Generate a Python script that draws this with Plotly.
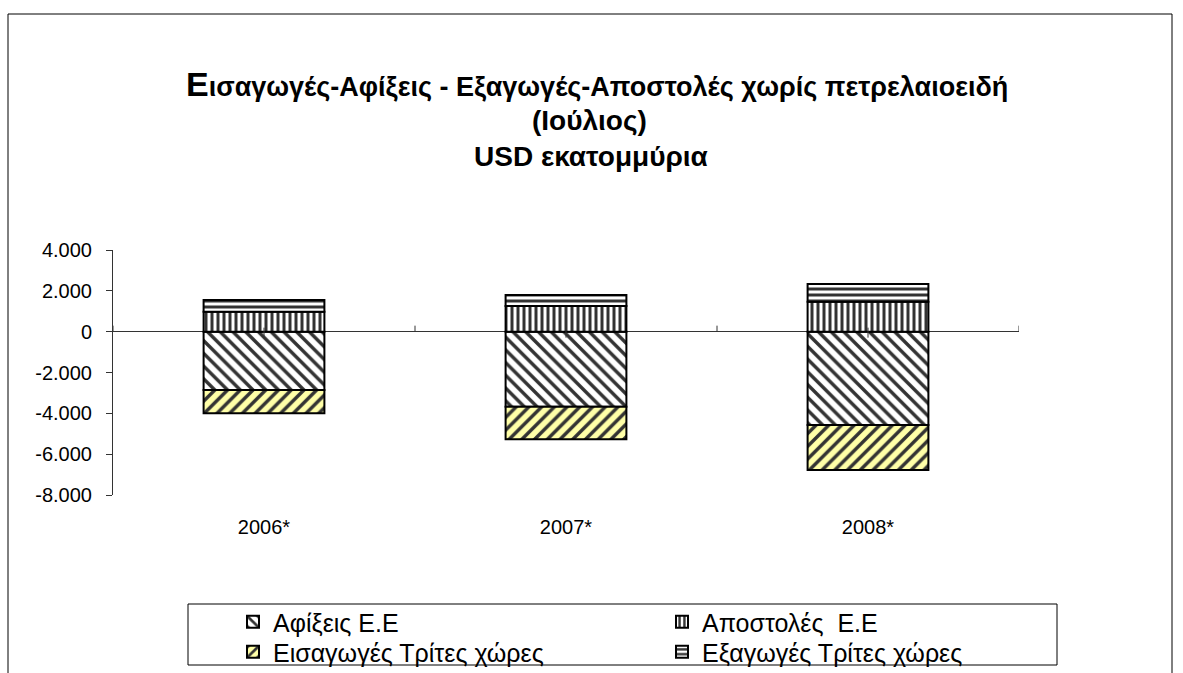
import plotly.graph_objects as go

# ---------------- data ----------------
years = ["2006*", "2007*", "2008*"]
afixeis_ee = [-2860, -3680, -4575]        # Αφίξεις Ε.Ε
apostoles_ee = [980, 1260, 1470]          # Αποστολές  Ε.Ε
eisagoges_trites = [-1140, -1585, -2205]  # Εισαγωγές Τρίτες χώρες
exagoges_trites = [575, 540, 870]         # Εξαγωγές Τρίτες χώρες

series_names = ["Αφίξεις Ε.Ε", "Αποστολές  Ε.Ε", "Εισαγωγές Τρίτες χώρες", "Εξαγωγές Τρίτες χώρες"]
y_tickvals = [4000, 2000, 0, -2000, -4000, -6000, -8000]
y_ticktext = ["4.000", "2.000", "0", "-2.000", "-4.000", "-6.000", "-8.000"]

title_lines = [
    "Εισαγωγές-Αφίξεις - Εξαγωγές-Αποστολές χωρίς πετρελαιοειδή",
    "(Ιούλιος)",
    "USD εκατομμύρια",
]

# ---------------- layout geometry (pixels) ----------------
W, H = 1183, 673
L, R, T, B = 113, 164, 250, 178
PW, PH = W - L - R, H - T - B
FONT = "Liberation Sans, Arial, sans-serif"
STRIPE = "#333333"


def xp(px):
    return (px - L) / PW


def yp(py):
    return (H - B - py) / PH


def bar(name, vals, shape, bg, size, sol, legend):
    return go.Bar(
        name=name, x=years, y=vals, legend=legend,
        marker=dict(
            color=bg,
            line=dict(color="black", width=2),
            pattern=dict(shape=shape, fgcolor=STRIPE, bgcolor=bg,
                         size=size, solidity=sol, fillmode="replace"),
        ),
        hoverinfo="x+y+name",
    )


fig = go.Figure()
fig.add_trace(bar(series_names[0], afixeis_ee, "\\", "white", 9, 0.38, "legend"))
fig.add_trace(bar(series_names[1], apostoles_ee, "|", "white", 6, 0.5, "legend2"))
fig.add_trace(bar(series_names[2], eisagoges_trites, "/", "#FFFFA8", 9, 0.38, "legend3"))
fig.add_trace(bar(series_names[3], exagoges_trites, "-", "white", 6, 0.5, "legend4"))

# category-boundary tick marks on the zero line (upward), small cross marks at category centres
shapes = []
for i in range(len(years) + 1):
    shapes.append(dict(type="line", xref="x", yref="y", ysizemode="pixel", yanchor=0,
                       x0=i - 0.5, x1=i - 0.5, y0=0, y1=6,
                       line=dict(color="#333333", width=1)))
for i in range(len(years)):
    shapes.append(dict(type="line", xref="x", yref="y", ysizemode="pixel", yanchor=0,
                       x0=i, x1=i, y0=-6, y1=4,
                       line=dict(color="#333333", width=1)))

# chart-area border (bottom edge lies outside the visible window)
border = dict(color="black", width=1)
shapes += [
    dict(type="line", xref="paper", yref="paper", x0=xp(8), x1=xp(1172), y0=yp(14), y1=yp(14), line=border),
    dict(type="line", xref="paper", yref="paper", x0=xp(8), x1=xp(8), y0=yp(14), y1=yp(700), line=border),
    dict(type="line", xref="paper", yref="paper", x0=xp(1172), x1=xp(1172), y0=yp(14), y1=yp(700), line=border),
    # legend frame
    dict(type="rect", xref="paper", yref="paper", x0=xp(188), x1=xp(1057), y0=yp(665), y1=yp(604),
         line=dict(color="black", width=1), fillcolor="rgba(0,0,0,0)"),
]

TS = 28
annotations = [
    dict(xref="paper", yref="paper", x=xp(597), y=yp(84), xanchor="center", yanchor="middle",
         showarrow=False,
         text="<b><span style='font-size:34px'>" + title_lines[0][0] + "</span>" + title_lines[0][1:] + "</b>",
         font=dict(family=FONT, size=27, color="black")),
    dict(xref="paper", yref="paper", x=xp(589), y=yp(121), xanchor="center", yanchor="middle",
         showarrow=False, text="<b>" + title_lines[1] + "</b>",
         font=dict(family=FONT, size=TS, color="black")),
    dict(xref="paper", yref="paper", x=xp(591), y=yp(157), xanchor="center", yanchor="middle",
         showarrow=False, text="<b>" + title_lines[2] + "</b>",
         font=dict(family=FONT, size=TS, color="black")),
]

legend_common = dict(
    orientation="v", xref="container", yref="container", xanchor="left", yanchor="top",
    bgcolor="rgba(0,0,0,0)", borderwidth=0, itemwidth=30,
    font=dict(family=FONT, size=25, color="black"),
    tracegroupgap=0, itemclick=False, itemdoubleclick=False,
)
col_x = [233, 662]
row_top = [599, 629]

fig.update_layout(
    width=W, height=H,
    margin=dict(l=L, r=R, t=T, b=B, pad=0, autoexpand=False),
    paper_bgcolor="white", plot_bgcolor="white",
    barmode="relative", bargap=0.6,
    font=dict(family=FONT, size=20, color="black"),
    showlegend=True,
    legend=dict(x=col_x[0] / W, y=1 - row_top[0] / H, **legend_common),
    legend2=dict(x=col_x[1] / W, y=1 - row_top[0] / H, **legend_common),
    legend3=dict(x=col_x[0] / W, y=1 - row_top[1] / H, **legend_common),
    legend4=dict(x=col_x[1] / W, y=1 - row_top[1] / H, **legend_common),
    shapes=shapes,
    annotations=annotations,
    xaxis=dict(
        range=[-0.5, len(years) - 0.5], showline=False, showgrid=False, zeroline=False,
        ticks="", tickangle=0, automargin=False,
        tickfont=dict(family=FONT, size=20, color="black"),
        ticklabelstandoff=18, fixedrange=True,
    ),
    yaxis=dict(
        range=[-8000, 4000], tickmode="array", tickvals=y_tickvals, ticktext=y_ticktext,
        showline=True, linecolor="#333333", linewidth=1, automargin=False,
        ticks="outside", ticklen=6, tickcolor="#333333", tickwidth=1,
        showgrid=False, zeroline=True, zerolinecolor="#333333", zerolinewidth=1,
        tickfont=dict(family=FONT, size=20, color="black"),
        ticklabelstandoff=10, fixedrange=True,
    ),
)

fig.write_html("out.html", include_plotlyjs=True, full_html=True,
               config={"displayModeBar": False},
               post_script="document.body.style.margin='0';")
